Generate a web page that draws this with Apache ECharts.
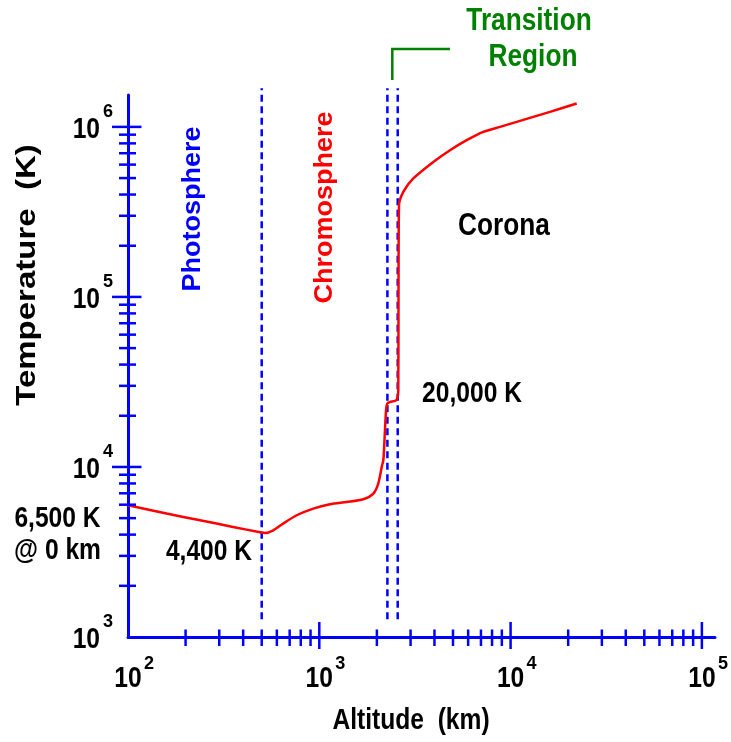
<!DOCTYPE html>
<html><head><meta charset="utf-8">
<script src="https://cdn.jsdelivr.net/npm/echarts@6.0.0/dist/echarts.min.js"></script>
<style>html,body{margin:0;padding:0;background:#fff}#c{width:731px;height:742px}</style>
</head><body><div id="c"></div>
<script>
// ---- data ----
const altitudeKm   = [100, 159, 238, 354, 490, 520, 575, 648, 762, 930, 1137, 1391, 1698, 1916, 2034, 2120, 2161, 2179, 2233, 2268, 2342, 2487, 2556, 2588, 2595, 2610, 2749, 3100, 3944, 4823, 5896, 7200, 8803, 10760, 13140, 16070, 22160];
const temperatureK = [5950, 5320, 4860, 4440, 4130, 4090, 4240, 4650, 5200, 5690, 6035, 6225, 6460, 6980, 7990, 10000, 10950, 12540, 21560, 23600, 24120, 24440, 25250, 28270, 100000, 346000, 414700, 497200, 622300, 729400, 835500, 934600, 1000000, 1070000, 1145000, 1225000, 1373000];
const boundaryKm = [500, 2270, 2570];
const xMajorTicks = [1000, 10000, 100000];
const xMinorTicks = [200,300,400,500,600,700,800,900, 2000,3000,4000,5000,6000,7000,8000,9000, 20000,30000,40000,50000,60000,70000,80000,90000];
const yMajorTicks = [10000, 100000, 1000000];
const yMinorTicks = [2000,3000,4000,5000,6000,7000,8000,9000, 20000,30000,40000,50000,60000,70000,80000,90000, 200000,300000,400000,500000,600000,700000,800000,900000];
const xLabelValues = [100, 1000, 10000, 100000];
const xLabelExponents = ['2', '3', '4', '5'];
const yLabelValues = [1000, 10000, 100000, 1000000];
const yLabelExponents = ['3', '4', '5', '6'];

// ---- styling ----
const BLUE = '#0000ff', RED = '#ff0000', GREEN = '#008000';
const FONT = "'Liberation Sans',Arial,sans-serif";
const SQ = 0.82; // horizontal condensation of the reference lettering
const X_MIN = 100, X_MAX = 117100, Y_MIN = 1000, Y_MAX = 1540000;
const DASH_BOTTOM = 1270, DASH_TOP = 1690000;

const chart = echarts.init(document.getElementById('c'), null, { renderer: 'canvas' });

function txt(text, x, y, size, color, align, extra) {
  return Object.assign({ type: 'text', x: x, y: y, scaleX: SQ,
    style: { text: text, font: 'bold ' + size + 'px ' + FONT, fill: color, align: align || 'center', verticalAlign: 'middle' } }, extra || {});
}

const option = {
  animation: false,
  backgroundColor: '#fff',
  grid: { left: 128, right: 16, top: 95, bottom: 105, containLabel: false },
  xAxis: {
    type: 'log', logBase: 10, min: X_MIN, max: X_MAX,
    axisLine: { onZero: false, lineStyle: { color: BLUE, width: 3 } },
    axisTick: { show: false }, splitLine: { show: false }, axisLabel: { show: false }
  },
  yAxis: {
    type: 'log', logBase: 10, min: Y_MIN, max: Y_MAX,
    axisLine: { onZero: false, lineStyle: { color: BLUE, width: 3 } },
    axisTick: { show: false }, splitLine: { show: false }, axisLabel: { show: false }
  },
  series: [
    {
      type: 'custom', name: 'boundaries', clip: false, z: 2, silent: true,
      data: boundaryKm.map(v => [v, DASH_BOTTOM]),
      renderItem: (params, api) => {
        const x = api.value(0);
        const p1 = api.coord([x, DASH_BOTTOM]), p2 = api.coord([x, DASH_TOP]);
        return { type: 'line', shape: { x1: p1[0], y1: p1[1], x2: p2[0], y2: p2[1] },
                 style: { stroke: BLUE, lineWidth: 2.5, lineDash: [7, 4.5] } };
      }
    },
    {
      type: 'custom', name: 'xticks', clip: false, z: 4, silent: true,
      data: xMinorTicks.map(v => [v, Y_MIN, 0]).concat(xMajorTicks.map(v => [v, Y_MIN, 1])),
      renderItem: (params, api) => {
        const p = api.coord([api.value(0), api.value(1)]);
        const major = api.value(2) === 1;
        const up = major ? 15 : 7.5, down = major ? 12 : 9;
        return { type: 'line', shape: { x1: p[0], y1: p[1] - up, x2: p[0], y2: p[1] + down },
                 style: { stroke: BLUE, lineWidth: 2.5 } };
      }
    },
    {
      type: 'custom', name: 'yticks', clip: false, z: 4, silent: true,
      data: yMinorTicks.map(v => [X_MIN, v, 0]).concat(yMajorTicks.map(v => [X_MIN, v, 1])),
      renderItem: (params, api) => {
        const p = api.coord([api.value(0), api.value(1)]);
        const major = api.value(2) === 1;
        const left = major ? 16 : 9, right = major ? 13.5 : 8;
        return { type: 'line', shape: { x1: p[0] - left, y1: p[1], x2: p[0] + right, y2: p[1] },
                 style: { stroke: BLUE, lineWidth: 2.5 } };
      }
    },
    {
      type: 'custom', name: 'xlabels', clip: false, z: 5, silent: true,
      data: xLabelValues.map((v, i) => [v, Y_MIN, i]),
      renderItem: (params, api) => {
        const p = api.coord([api.value(0), api.value(1)]);
        const e = xLabelExponents[api.value(2)];
        return { type: 'group', children: [
          txt('10', p[0], p[1] + 42, 30, '#000', 'center'),
          txt(e, p[0] + 16, p[1] + 26.5, 19, '#000', 'left', { scaleX: 0.95 })
        ] };
      }
    },
    {
      type: 'custom', name: 'ylabels', clip: false, z: 5, silent: true,
      data: yLabelValues.map((v, i) => [X_MIN, v, i]),
      renderItem: (params, api) => {
        const p = api.coord([api.value(0), api.value(1)]);
        const e = yLabelExponents[api.value(2)];
        return { type: 'group', children: [
          txt('10', p[0] - 28, p[1] + 2.5, 30, '#000', 'right'),
          txt(e, p[0] - 25, p[1] - 15, 19, '#000', 'left', { scaleX: 0.95 })
        ] };
      }
    },
    {
      type: 'line', name: 'Temperature', z: 3,
      data: altitudeKm.map((a, i) => [a, temperatureK[i]]),
      symbol: 'none', smooth: 0.25,
      lineStyle: { color: RED, width: 2.5 }
    }
  ],
  graphic: [
    { type: 'text', x: 27, y: 275, rotation: Math.PI / 2, scaleY: 0.86,
      style: { text: 'Temperature  (K)', font: 'bold 33px ' + FONT, fill: '#000', align: 'center', verticalAlign: 'middle' } },
    txt('Altitude  (km)', 411, 721, 30, '#000'),
    { type: 'text', x: 193, y: 209, rotation: Math.PI / 2, scaleY: 0.93,
      style: { text: 'Photosphere', font: 'bold 27px ' + FONT, fill: BLUE, align: 'center', verticalAlign: 'middle' } },
    { type: 'text', x: 325, y: 207.5, rotation: Math.PI / 2, scaleY: 0.93,
      style: { text: 'Chromosphere', font: 'bold 27px ' + FONT, fill: RED, align: 'center', verticalAlign: 'middle' } },
    txt('Corona', 504, 226.5, 32, '#000'),
    txt('20,000 K', 472, 394, 30, '#000'),
    txt('6,500 K', 57.5, 519, 30, '#000'),
    txt('@ 0 km', 57.5, 551, 30, '#000'),
    txt('4,400 K', 209, 552, 30, '#000'),
    txt('Transition', 529, 21, 32, GREEN),
    txt('Region', 533, 57, 32, GREEN),
    { type: 'polyline', shape: { points: [[392.3, 80], [392.3, 49], [450, 49]] },
      style: { stroke: GREEN, lineWidth: 2.5, fill: null } }
  ]
};
chart.setOption(option);
</script>
</body></html>
